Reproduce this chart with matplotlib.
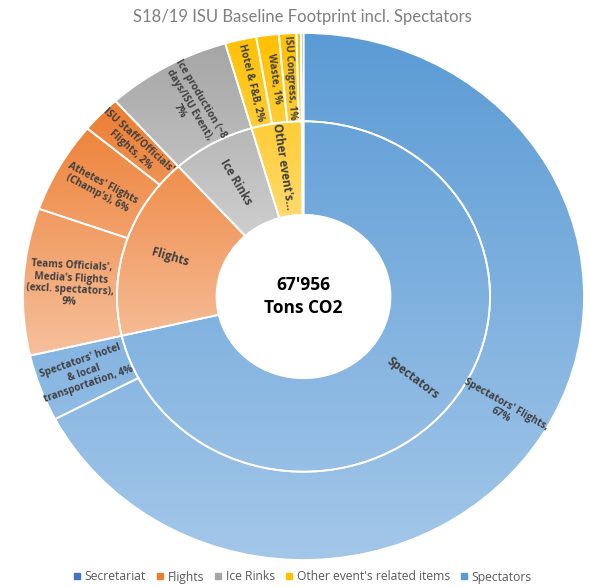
import numpy as np
import matplotlib.pyplot as plt
from matplotlib.colors import to_rgb
from matplotlib.lines import Line2D

plt.rcParams['font.family'] = ['Open Sans', 'DejaVu Sans']

## inner ring: categories
groups = ['Spectators', 'Flights', 'Ice Rinks', "Other event's related items", 'Secretariat']
group_share = [71.4, 16.9, 7.2, 4.35, 0.15]
group_labels = ['Spectators', 'Flights', 'Ice Rinks', "Other event's...", '']

## outer ring: items (same order, clockwise from the top)
item_share = [67.3, 4.1, 9.0, 5.6, 2.3, 7.2, 1.8, 1.3, 1.0, 0.25, 0.15]
item_group = ['Spectators', 'Spectators', 'Flights', 'Flights', 'Flights', 'Ice Rinks',
              "Other event's related items", "Other event's related items",
              "Other event's related items", "Other event's related items", 'Secretariat']
item_labels = ["Spectators' Flights,\n67%",
               "Spectators' hotel\n& local\ntransportation, 4%",
               "Teams Officials',\nMedia's Flights\n(excl. spectators),\n9%",
               "Athetes' Flights\n(Champ's), 6%",
               "ISU Staff/Officials'\nFlights, 2%",
               "Ice production (~8\ndays/ISU Event),\n7%",
               "Hotel & F&B, 2%", "Waste, 1%", "ISU Congress, 1%", "", ""]

legend_order = ['Secretariat', 'Flights', 'Ice Rinks', "Other event's related items", 'Spectators']
total_text = "67'956\nTons CO2"
title = 'S18/19 ISU Baseline Footprint incl. Spectators'

# gradient colours (top, bottom) per category, legend colour first
colors = {
    'Spectators': ('#5B9BD5', '#A3C7E9'),
    'Flights': ('#ED7D31', '#F6C09C'),
    'Ice Rinks': ('#A5A5A5', '#CECECE'),
    "Other event's related items": ('#FFC000', '#FFDA6E'),
    'Secretariat': ('#4472C4', '#4472C4'),
}

R_OUT, R_MID, R_HOLE = 1.0, 0.665, 0.31
W_PX, H_PX = 561, 527

fig = plt.figure(figsize=(5.9, 5.87), dpi=100)
ax = fig.add_axes([23 / 590, (587 - 560) / 587, W_PX / 590, H_PX / 587])

wp = dict(edgecolor='white', linewidth=1.3, facecolor='none')
outer, _ = ax.pie(item_share, radius=R_OUT, startangle=90, counterclock=False,
                  wedgeprops=dict(width=R_OUT - R_MID, **wp))
inner, _ = ax.pie(group_share, radius=R_MID, startangle=90, counterclock=False,
                  wedgeprops=dict(width=R_MID - R_HOLE, **wp))

# vertical extent of each category (both rings)
extent = {}
for w, g in list(zip(outer, item_group)) + list(zip(inner, groups)):
    bb = w.get_path().get_extents()
    lo, hi = extent.get(g, (np.inf, -np.inf))
    extent[g] = (min(lo, bb.y0), max(hi, bb.y1))


def fill_gradient(wedge, g):
    c0 = np.array(to_rgb(colors[g][0]))
    c1 = np.array(to_rgb(colors[g][1]))
    t = np.linspace(0, 1, 256)[:, None, None]
    img = c0 + (c1 - c0) * t
    y0, y1 = extent[g]
    im = ax.imshow(img, extent=(-1, 1, y0, y1), origin='upper', aspect='auto',
                   zorder=0, interpolation='bilinear')
    im.set_clip_path(wedge)


for w, g in zip(outer, item_group):
    fill_gradient(w, g)
for w, g in zip(inner, groups):
    fill_gradient(w, g)


def radial_label(w, r, text, size):
    if not text:
        return
    phi = np.deg2rad((w.theta1 + w.theta2) / 2)
    x, y = r * np.cos(phi), r * np.sin(phi)
    rot = np.degrees(np.arctan2(H_PX / 2 * np.sin(phi), W_PX / 2 * np.cos(phi)))
    if np.cos(phi) < 0:
        rot += 180
    ax.text(x, y, text, rotation=rot, rotation_mode='anchor', ha='center', va='center',
            fontsize=size, weight='bold', color='#404040', linespacing=1.15)


for w, lab in zip(outer, item_labels):
    radial_label(w, (R_OUT + R_MID) / 2, lab, 7.2)
for w, lab in zip(inner, group_labels):
    radial_label(w, (R_MID + R_HOLE) / 2 + 0.01, lab, 8.3)

ax.text(0, 0, total_text, ha='center', va='center', fontsize=12.5, weight='bold',
        color='black', linespacing=1.35)

ax.set_aspect('auto')
ax.set_xlim(-1, 1)
ax.set_ylim(-1, 1)
ax.axis('off')

fig.text(0.513, 1 - 17 / 587, title, ha='center', va='center', fontsize=12,
         color='#7F7F7F', family=['Lato', 'DejaVu Sans'])

handles = [Line2D([], [], marker='s', linestyle='none', markersize=5,
                  color=colors[g][0]) for g in legend_order]
fig.legend(handles, legend_order, loc='center', bbox_to_anchor=(0.513, 1 - 577 / 587),
           ncol=5, frameon=False, fontsize=8.7, handlelength=0.6, handletextpad=0.3,
           columnspacing=0.9, labelcolor='#595959')

fig.savefig('out.png', dpi=100)
